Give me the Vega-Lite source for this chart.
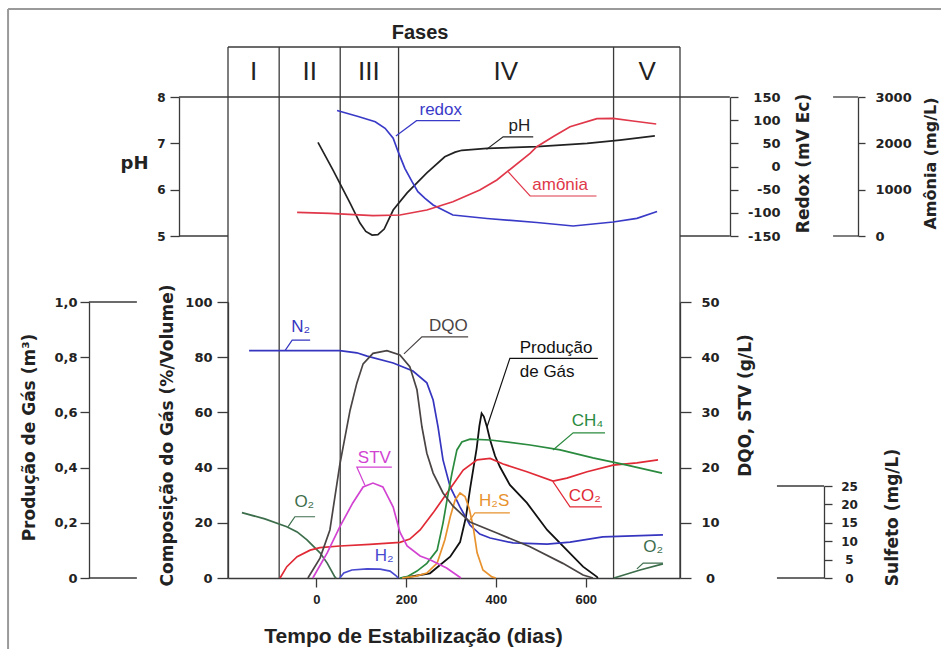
{
  "$schema": "https://vega.github.io/schema/vega-lite/v6.json",
  "width": 452,
  "height": 481,
  "autosize": {"type": "none"},
  "padding": {"left": 228, "top": 97, "right": 261, "bottom": 71},
  "background": "white",
  "config": {
    "view": {"stroke": null},
    "axis": {"grid": false, "domainColor": "#3a3a3a", "domainWidth": 1.3, "tickColor": "#3a3a3a", "tickWidth": 1.3, "labelColor": "#222222", "titleColor": "#222222", "labelFont": "DejaVu Sans", "labelFontWeight": "bold", "titleFont": "DejaVu Sans", "titleFontWeight": "bold", "labelFlush": false, "labelOverlap": false, "labelBound": false, "titleFontSize": 17, "labelFontSize": 13}
  },
  "datasets": {
    "curvas": [
      {"s":"pH","id":"pH","dia":3.5,"v":7.02},{"s":"pH","id":"pH","dia":37,"v":6.42},{"s":"pH","id":"pH","dia":75,"v":5.71},{"s":"pH","id":"pH","dia":97,"v":5.28},{"s":"pH","id":"pH","dia":110,"v":5.1},{"s":"pH","id":"pH","dia":124,"v":5.02},{"s":"pH","id":"pH","dia":137,"v":5.03},{"s":"pH","id":"pH","dia":151,"v":5.15},{"s":"pH","id":"pH","dia":171,"v":5.56},{"s":"pH","id":"pH","dia":202,"v":5.93},{"s":"pH","id":"pH","dia":246,"v":6.36},{"s":"pH","id":"pH","dia":286,"v":6.71},{"s":"pH","id":"pH","dia":309,"v":6.81},{"s":"pH","id":"pH","dia":324,"v":6.85},{"s":"pH","id":"pH","dia":380,"v":6.89},{"s":"pH","id":"pH","dia":491,"v":6.93},{"s":"pH","id":"pH","dia":603,"v":7.0},{"s":"pH","id":"pH","dia":676,"v":7.07},{"s":"pH","id":"pH","dia":754,"v":7.16},
      {"s":"redox","id":"redox","dia":46,"v":120.9},{"s":"redox","id":"redox","dia":93,"v":107.9},{"s":"redox","id":"redox","dia":131,"v":96.7},{"s":"redox","id":"redox","dia":153,"v":82.5},{"s":"redox","id":"redox","dia":171,"v":60.9},{"s":"redox","id":"redox","dia":182,"v":32},{"s":"redox","id":"redox","dia":197,"v":-3.9},{"s":"redox","id":"redox","dia":213,"v":-32.8},{"s":"redox","id":"redox","dia":226,"v":-54.4},{"s":"redox","id":"redox","dia":242,"v":-68.6},{"s":"redox","id":"redox","dia":260,"v":-83.1},{"s":"redox","id":"redox","dia":304,"v":-104.7},{"s":"redox","id":"redox","dia":380,"v":-112.2},{"s":"redox","id":"redox","dia":491,"v":-120.9},{"s":"redox","id":"redox","dia":572,"v":-128.4},{"s":"redox","id":"redox","dia":661,"v":-119.8},{"s":"redox","id":"redox","dia":714,"v":-111.8},{"s":"redox","id":"redox","dia":759,"v":-97.1},
      {"s":"amonia","id":"amonia","dia":-43,"v":512},{"s":"amonia","id":"amonia","dia":30,"v":490},{"s":"amonia","id":"amonia","dia":126,"v":438},{"s":"amonia","id":"amonia","dia":186,"v":453},{"s":"amonia","id":"amonia","dia":246,"v":561},{"s":"amonia","id":"amonia","dia":304,"v":740},{"s":"amonia","id":"amonia","dia":364,"v":993},{"s":"amonia","id":"amonia","dia":402,"v":1209},{"s":"amonia","id":"amonia","dia":425,"v":1388},{"s":"amonia","id":"amonia","dia":476,"v":1785},{"s":"amonia","id":"amonia","dia":491,"v":1927},{"s":"amonia","id":"amonia","dia":527,"v":2143},{"s":"amonia","id":"amonia","dia":565,"v":2359},{"s":"amonia","id":"amonia","dia":625,"v":2532},{"s":"amonia","id":"amonia","dia":661,"v":2540},{"s":"amonia","id":"amonia","dia":705,"v":2482},{"s":"amonia","id":"amonia","dia":757,"v":2417},
      {"s":"N2","id":"N2","dia":-150,"v":82.4},{"s":"N2","id":"N2","dia":52,"v":82.4},{"s":"N2","id":"N2","dia":90,"v":81.6},{"s":"N2","id":"N2","dia":113,"v":80.4},{"s":"N2","id":"N2","dia":171,"v":77.9},{"s":"N2","id":"N2","dia":215,"v":75},{"s":"N2","id":"N2","dia":246,"v":70.7},{"s":"N2","id":"N2","dia":260,"v":64.5},{"s":"N2","id":"N2","dia":271,"v":54.7},{"s":"N2","id":"N2","dia":282,"v":42.8},{"s":"N2","id":"N2","dia":298,"v":33},{"s":"N2","id":"N2","dia":320,"v":25.7},{"s":"N2","id":"N2","dia":342,"v":19.2},{"s":"N2","id":"N2","dia":364,"v":15.9},{"s":"N2","id":"N2","dia":387,"v":14.5},{"s":"N2","id":"N2","dia":438,"v":12.7},{"s":"N2","id":"N2","dia":514,"v":12.3},{"s":"N2","id":"N2","dia":565,"v":13},{"s":"N2","id":"N2","dia":638,"v":14.9},{"s":"N2","id":"N2","dia":772,"v":15.6},
      {"s":"O2","id":"O2a","dia":-166,"v":23.7},{"s":"O2","id":"O2a","dia":-115,"v":21.4},{"s":"O2","id":"O2a","dia":-66,"v":18.6},{"s":"O2","id":"O2a","dia":-43,"v":16.7},{"s":"O2","id":"O2a","dia":-21,"v":13.8},{"s":"O2","id":"O2a","dia":8,"v":9.1},{"s":"O2","id":"O2a","dia":24,"v":5.4},{"s":"O2","id":"O2a","dia":41,"v":0.4},{"s":"O2","id":"O2a","dia":44,"v":0},
      {"s":"O2","id":"O2b","dia":663,"v":0},{"s":"O2","id":"O2b","dia":721,"v":2.9},{"s":"O2","id":"O2b","dia":772,"v":5.1},
      {"s":"CO2","id":"CO2","dia":-81,"v":0},{"s":"CO2","id":"CO2","dia":-66,"v":4.1},{"s":"CO2","id":"CO2","dia":-43,"v":7.7},{"s":"CO2","id":"CO2","dia":-14,"v":10.1},{"s":"CO2","id":"CO2","dia":8,"v":11},{"s":"CO2","id":"CO2","dia":52,"v":11.6},{"s":"CO2","id":"CO2","dia":119,"v":12.2},{"s":"CO2","id":"CO2","dia":186,"v":12.9},{"s":"CO2","id":"CO2","dia":208,"v":14.1},{"s":"CO2","id":"CO2","dia":231,"v":17.4},{"s":"CO2","id":"CO2","dia":260,"v":23.6},{"s":"CO2","id":"CO2","dia":291,"v":30.8},{"s":"CO2","id":"CO2","dia":327,"v":39.1},{"s":"CO2","id":"CO2","dia":358,"v":42.8},{"s":"CO2","id":"CO2","dia":387,"v":43.3},{"s":"CO2","id":"CO2","dia":416,"v":41.3},{"s":"CO2","id":"CO2","dia":469,"v":38.5},{"s":"CO2","id":"CO2","dia":527,"v":35.1},{"s":"CO2","id":"CO2","dia":558,"v":36.2},{"s":"CO2","id":"CO2","dia":603,"v":38.5},{"s":"CO2","id":"CO2","dia":661,"v":40.9},{"s":"CO2","id":"CO2","dia":714,"v":41.7},{"s":"CO2","id":"CO2","dia":761,"v":42.8},
      {"s":"CH4","id":"CH4","dia":186,"v":0},{"s":"CH4","id":"CH4","dia":202,"v":0.5},{"s":"CH4","id":"CH4","dia":224,"v":2.5},{"s":"CH4","id":"CH4","dia":246,"v":5.3},{"s":"CH4","id":"CH4","dia":269,"v":10.1},{"s":"CH4","id":"CH4","dia":282,"v":19.9},{"s":"CH4","id":"CH4","dia":291,"v":28.3},{"s":"CH4","id":"CH4","dia":302,"v":38},{"s":"CH4","id":"CH4","dia":313,"v":46.4},{"s":"CH4","id":"CH4","dia":324,"v":49.3},{"s":"CH4","id":"CH4","dia":342,"v":50.3},{"s":"CH4","id":"CH4","dia":387,"v":50},{"s":"CH4","id":"CH4","dia":476,"v":48.2},{"s":"CH4","id":"CH4","dia":543,"v":46.4},{"s":"CH4","id":"CH4","dia":616,"v":43.5},{"s":"CH4","id":"CH4","dia":692,"v":40.9},{"s":"CH4","id":"CH4","dia":770,"v":38},
      {"s":"H2","id":"H2","dia":52,"v":0},{"s":"H2","id":"H2","dia":61,"v":1.8},{"s":"H2","id":"H2","dia":79,"v":2.9},{"s":"H2","id":"H2","dia":113,"v":3.3},{"s":"H2","id":"H2","dia":142,"v":3.2},{"s":"H2","id":"H2","dia":164,"v":2.5},{"s":"H2","id":"H2","dia":177,"v":0.9},{"s":"H2","id":"H2","dia":182,"v":0},
      {"s":"H2S","id":"H2S","dia":191,"v":0},{"s":"H2S","id":"H2S","dia":222,"v":0.7},{"s":"H2S","id":"H2S","dia":246,"v":1.8},{"s":"H2S","id":"H2S","dia":269,"v":5.4},{"s":"H2S","id":"H2S","dia":286,"v":13.8},{"s":"H2S","id":"H2S","dia":298,"v":22.1},{"s":"H2S","id":"H2S","dia":309,"v":28.3},{"s":"H2S","id":"H2S","dia":320,"v":30.8},{"s":"H2S","id":"H2S","dia":331,"v":29.5},{"s":"H2S","id":"H2S","dia":340,"v":25.4},{"s":"H2S","id":"H2S","dia":349,"v":18.8},{"s":"H2S","id":"H2S","dia":358,"v":9.1},{"s":"H2S","id":"H2S","dia":371,"v":2.9},{"s":"H2S","id":"H2S","dia":391,"v":0.4},{"s":"H2S","id":"H2S","dia":400,"v":0},
      {"s":"Producao","id":"Producao","dia":191,"v":0},{"s":"Producao","id":"Producao","dia":253,"v":0.017},{"s":"Producao","id":"Producao","dia":298,"v":0.077},{"s":"Producao","id":"Producao","dia":320,"v":0.13},{"s":"Producao","id":"Producao","dia":333,"v":0.22},{"s":"Producao","id":"Producao","dia":343,"v":0.33},{"s":"Producao","id":"Producao","dia":350,"v":0.4},{"s":"Producao","id":"Producao","dia":357,"v":0.47},{"s":"Producao","id":"Producao","dia":363,"v":0.55},{"s":"Producao","id":"Producao","dia":368,"v":0.597},{"s":"Producao","id":"Producao","dia":373,"v":0.585},{"s":"Producao","id":"Producao","dia":380,"v":0.547},{"s":"Producao","id":"Producao","dia":387,"v":0.5},{"s":"Producao","id":"Producao","dia":398,"v":0.442},{"s":"Producao","id":"Producao","dia":409,"v":0.402},{"s":"Producao","id":"Producao","dia":431,"v":0.337},{"s":"Producao","id":"Producao","dia":469,"v":0.272},{"s":"Producao","id":"Producao","dia":514,"v":0.174},{"s":"Producao","id":"Producao","dia":558,"v":0.101},{"s":"Producao","id":"Producao","dia":594,"v":0.041},{"s":"Producao","id":"Producao","dia":625,"v":0.004},{"s":"Producao","id":"Producao","dia":627,"v":0},
      {"s":"DQO","id":"DQO","dia":-19,"v":0},{"s":"DQO","id":"DQO","dia":8,"v":3.6},{"s":"DQO","id":"DQO","dia":30,"v":8.7},{"s":"DQO","id":"DQO","dia":52,"v":20.5},{"s":"DQO","id":"DQO","dia":75,"v":30.4},{"s":"DQO","id":"DQO","dia":90,"v":35.3},{"s":"DQO","id":"DQO","dia":104,"v":38.8},{"s":"DQO","id":"DQO","dia":126,"v":40.7},{"s":"DQO","id":"DQO","dia":157,"v":41.2},{"s":"DQO","id":"DQO","dia":186,"v":40.4},{"s":"DQO","id":"DQO","dia":208,"v":38.3},{"s":"DQO","id":"DQO","dia":224,"v":34.1},{"s":"DQO","id":"DQO","dia":235,"v":27.4},{"s":"DQO","id":"DQO","dia":246,"v":22.6},{"s":"DQO","id":"DQO","dia":260,"v":19},{"s":"DQO","id":"DQO","dia":282,"v":15.4},{"s":"DQO","id":"DQO","dia":304,"v":13.05},{"s":"DQO","id":"DQO","dia":342,"v":10.15},{"s":"DQO","id":"DQO","dia":402,"v":8.15},{"s":"DQO","id":"DQO","dia":476,"v":5.65},{"s":"DQO","id":"DQO","dia":549,"v":2.65},{"s":"DQO","id":"DQO","dia":594,"v":0.55},{"s":"DQO","id":"DQO","dia":616,"v":0},
      {"s":"STV","id":"STV","dia":-8,"v":0},{"s":"STV","id":"STV","dia":24,"v":4.55},{"s":"STV","id":"STV","dia":52,"v":9.25},{"s":"STV","id":"STV","dia":81,"v":13.6},{"s":"STV","id":"STV","dia":104,"v":16.5},{"s":"STV","id":"STV","dia":126,"v":17.2},{"s":"STV","id":"STV","dia":148,"v":16.5},{"s":"STV","id":"STV","dia":171,"v":12.85},{"s":"STV","id":"STV","dia":186,"v":8.3},{"s":"STV","id":"STV","dia":202,"v":5.8},{"s":"STV","id":"STV","dia":231,"v":4},{"s":"STV","id":"STV","dia":253,"v":3.3},{"s":"STV","id":"STV","dia":290,"v":1.8},{"s":"STV","id":"STV","dia":322,"v":0}
    ],
    "guias": [
      {"s":"pH","id":"gpH","ordem":1,"dia":379,"v":6.87},{"s":"pH","id":"gpH","ordem":2,"dia":416,"v":7.14},{"s":"pH","id":"gpH","ordem":3,"dia":483,"v":7.14},
      {"s":"redox","id":"gredox","ordem":1,"dia":177,"v":65.8},{"s":"redox","id":"gredox","ordem":2,"dia":223,"v":98.9},{"s":"redox","id":"gredox","ordem":3,"dia":320,"v":98.9},
      {"s":"amonia","id":"gam","ordem":1,"dia":427,"v":1388},{"s":"amonia","id":"gam","ordem":2,"dia":476,"v":863},{"s":"amonia","id":"gam","ordem":3,"dia":624,"v":863},
      {"s":"N2","id":"gN2","ordem":1,"dia":-70,"v":82.4},{"s":"N2","id":"gN2","ordem":2,"dia":-54,"v":86.2},{"s":"N2","id":"gN2","ordem":3,"dia":-14,"v":86.2},
      {"s":"O2","id":"gO2a","ordem":1,"dia":-63,"v":18.6},{"s":"O2","id":"gO2a","ordem":2,"dia":-48,"v":22.2},{"s":"O2","id":"gO2a","ordem":3,"dia":-3,"v":22.2},
      {"s":"CH4","id":"gCH4","ordem":1,"dia":527,"v":46.4},{"s":"CH4","id":"gCH4","ordem":2,"dia":572,"v":52.6},{"s":"CH4","id":"gCH4","ordem":3,"dia":643,"v":52.6},
      {"s":"CO2","id":"gCO2","ordem":1,"dia":527,"v":34.9},{"s":"CO2","id":"gCO2","ordem":2,"dia":565,"v":25.8},{"s":"CO2","id":"gCO2","ordem":3,"dia":636,"v":25.8},
      {"s":"H2S","id":"gH2S","ordem":1,"dia":342,"v":21},{"s":"H2S","id":"gH2S","ordem":2,"dia":353,"v":23.6},{"s":"H2S","id":"gH2S","ordem":3,"dia":431,"v":23.6},
      {"s":"O2","id":"gO2b","ordem":1,"dia":714,"v":3.3},{"s":"O2","id":"gO2b","ordem":2,"dia":728,"v":5.4},{"s":"O2","id":"gO2b","ordem":3,"dia":772,"v":5.4},
      {"s":"DQO","id":"gDQO","ordem":1,"dia":195,"v":40.6},{"s":"DQO","id":"gDQO","ordem":2,"dia":235,"v":43.7},{"s":"DQO","id":"gDQO","ordem":3,"dia":338,"v":43.7},
      {"s":"STV","id":"gSTV","ordem":1,"dia":108,"v":16.8},{"s":"STV","id":"gSTV","ordem":2,"dia":90,"v":20.1},{"s":"STV","id":"gSTV","ordem":3,"dia":168,"v":20.1},
      {"s":"Producao","id":"gProd","ordem":1,"dia":380,"v":0.547},{"s":"Producao","id":"gProd","ordem":2,"dia":431,"v":0.796},{"s":"Producao","id":"gProd","ordem":3,"dia":627,"v":0.796}
    ],
    "rotulos": [
      {"s":"pH","dia":452,"v":7.37,"texto":"pH"},
      {"s":"redox","dia":277,"v":121,"texto":"redox"},
      {"s":"amonia","dia":543,"v":1092,"texto":"amônia"},
      {"s":"N2","dia":-35,"v":90.9,"texto":"N₂"},
      {"s":"O2","dia":-27,"v":27.4,"texto":"O₂"},
      {"s":"H2","dia":151,"v":8,"texto":"H₂"},
      {"s":"CH4","dia":604,"v":56.9,"texto":"CH₄"},
      {"s":"CO2","dia":598,"v":29.7,"texto":"CO₂"},
      {"s":"H2S","dia":396,"v":27.9,"texto":"H₂S"},
      {"s":"O2","dia":750,"v":11.1,"texto":"O₂"},
      {"s":"DQO","dia":294,"v":45.6,"texto":"DQO"},
      {"s":"STV","dia":129,"v":21.8,"texto":"STV"},
      {"s":"Producao","dia":453,"v":0.835,"texto":"Produção"},
      {"s":"Producao","dia":453,"v":0.746,"texto":"de Gás"}
    ],
    "moldura": [
      {"g":"pH","dia":-306,"dia2":921,"v":8},{"g":"pH","dia":-306,"dia2":-197,"v":5},{"g":"pH","dia":810,"dia2":921,"v":5},{"g":"pH","dia":1151,"dia2":1207,"v":5},{"g":"pH","dia":1151,"dia2":1207,"v":8},
      {"g":"prod","dia":-507,"dia2":-400,"v":0},{"g":"prod","dia":-507,"dia2":-400,"v":1},
      {"g":"sulf","dia":1026,"dia2":1131,"v":0},{"g":"sulf","dia":1026,"dia2":1131,"v":25},
      {"g":"cab","dia":-197,"dia2":810,"v":1}
    ],
    "borda": [{"dia":-687,"dia2":1392,"v":1.76,"v2":-11.1}],
    "fases": [{"dia":-197,"v":0,"v2":1},{"dia":-83,"v":0,"v2":1},{"dia":53,"v":0,"v2":1},{"dia":183,"v":0,"v2":1},{"dia":662,"v":0,"v2":1},{"dia":810,"v":0,"v2":1}],
    "numerais": [{"dia":-140,"v":0.5,"texto":"I"},{"dia":-15,"v":0.5,"texto":"II"},{"dia":117,"v":0.5,"texto":"III"},{"dia":422,"v":0.5,"texto":"IV"},{"dia":737,"v":0.5,"texto":"V"}],
    "titulo": [{"dia":231,"v":1.29,"texto":"Fases"}]
  },
  "encoding": {
    "x": {"field": "dia", "type": "quantitative", "scale": {"domain": [-197, 810], "nice": false, "zero": false},
      "axis": {"values": [0, 200, 400, 600], "labelExpr": "'' + datum.value", "title": "Tempo de Estabilização (dias)", "titleFont": "Liberation Sans", "titleFontSize": 21, "titleX": 185, "titleY": 64, "titleAlign": "center", "titleBaseline": "alphabetic", "labelFont": "Liberation Sans", "labelFontSize": 13, "tickSize": 9, "labelPadding": 6, "domainWidth": 1.5}}
  },
  "layer": [
    {"data": {"name": "fases"}, "mark": {"type": "rule", "color": "#3a3a3a", "strokeWidth": 1.3}, "encoding": {}},
    {
      "encoding": {"y": {"field": "v", "type": "quantitative", "scale": {"domain": [0, 1], "range": [0, -50], "nice": false, "zero": false}, "axis": null}},
      "layer": [
        {"data": {"name": "fases"}, "mark": {"type": "rule", "color": "#3a3a3a", "strokeWidth": 1.3}, "encoding": {"y2": {"field": "v2"}}},
        {"data": {"name": "moldura"}, "transform": [{"filter": "datum.g == 'cab'"}], "mark": {"type": "rule", "color": "#3a3a3a", "strokeWidth": 1.3}, "encoding": {"x2": {"field": "dia2"}}},
        {"data": {"name": "borda"}, "mark": {"type": "rule", "color": "#9a9a9a", "strokeWidth": 2}, "encoding": {"x2": {"field": "dia2"}}},
        {"data": {"name": "borda"}, "mark": {"type": "rule", "color": "#9a9a9a", "strokeWidth": 2}, "encoding": {"y2": {"field": "v2"}}},
        {"data": {"name": "numerais"}, "mark": {"type": "text", "font": "Liberation Sans", "fontSize": 26, "color": "#222222", "baseline": "middle"}, "encoding": {"text": {"field": "texto"}}},
        {"data": {"name": "titulo"}, "mark": {"type": "text", "font": "Liberation Sans", "fontSize": 20, "fontWeight": "bold", "color": "#222222", "baseline": "middle"}, "encoding": {"text": {"field": "texto"}}}
      ]
    },
    {
      "encoding": {"y": {"field": "v", "type": "quantitative", "scale": {"domain": [5, 8], "range": [139, 0], "nice": false, "zero": false},
        "axis": {"orient": "left", "offset": 49, "values": [5, 6, 7, 8], "labelExpr": "'' + datum.value", "tickSize": 9, "labelPadding": 5, "labelFontSize": 12, "labelBaseline": "middle", "title": "pH", "titleAngle": 0, "titleX": -45, "titleY": 66, "titleAlign": "center", "titleBaseline": "middle", "titleFontSize": 18}}},
      "layer": [
        {"data": {"name": "moldura"}, "transform": [{"filter": "datum.g == 'pH'"}], "mark": {"type": "rule", "color": "#3a3a3a", "strokeWidth": 1.3}, "encoding": {"x2": {"field": "dia2"}}},
        {"data": {"name": "curvas"}, "transform": [{"filter": "datum.s == 'pH'"}], "mark": {"type": "line", "strokeWidth": 1.7}, "encoding": {"detail": {"field": "id", "type": "nominal"}, "color": {"field": "s", "type": "nominal", "scale": {"domain": ["N2","O2","CO2","CH4","H2","H2S","DQO","STV","Producao","pH","redox","amonia"], "range": ["#3535c0","#3d6e4c","#e02a36","#2a8a3e","#4a4ad0","#e8922e","#4a4444","#d243d2","#111111","#222222","#3a3ac8","#e0384a"]}, "legend": null}}},
        {"data": {"name": "guias"}, "transform": [{"filter": "datum.s == 'pH'"}], "mark": {"type": "line", "strokeWidth": 1.2}, "encoding": {"detail": {"field": "id", "type": "nominal"}, "order": {"field": "ordem"}, "color": {"field": "s", "type": "nominal", "legend": null}}},
        {"data": {"name": "rotulos"}, "transform": [{"filter": "datum.s == 'pH'"}], "mark": {"type": "text", "font": "Liberation Sans", "fontSize": 17, "baseline": "middle"}, "encoding": {"text": {"field": "texto"}, "color": {"field": "s", "type": "nominal", "legend": null}}}
      ]
    },
    {
      "encoding": {"y": {"field": "v", "type": "quantitative", "scale": {"domain": [-150, 150], "range": [139, 0], "nice": false, "zero": false},
        "axis": {"orient": "right", "offset": 50, "values": [-150, -100, -50, 0, 50, 100, 150], "labelExpr": "'' + datum.value", "tickSize": 8, "labelAlign": "right", "labelPadding": 42, "labelFontSize": 13, "labelBaseline": "middle", "title": "Redox (mV Ec)", "titleAngle": -90, "titleX": 73, "titleY": 66, "titleAlign": "center", "titleBaseline": "middle", "titleFontSize": 17}}},
      "layer": [
        {"data": {"name": "curvas"}, "transform": [{"filter": "datum.s == 'redox'"}], "mark": {"type": "line", "strokeWidth": 1.7}, "encoding": {"detail": {"field": "id", "type": "nominal"}, "color": {"field": "s", "type": "nominal", "legend": null}}},
        {"data": {"name": "guias"}, "transform": [{"filter": "datum.s == 'redox'"}], "mark": {"type": "line", "strokeWidth": 1.2}, "encoding": {"detail": {"field": "id", "type": "nominal"}, "order": {"field": "ordem"}, "color": {"field": "s", "type": "nominal", "legend": null}}},
        {"data": {"name": "rotulos"}, "transform": [{"filter": "datum.s == 'redox'"}], "mark": {"type": "text", "font": "Liberation Sans", "fontSize": 17, "baseline": "middle"}, "encoding": {"text": {"field": "texto"}, "color": {"field": "s", "type": "nominal", "legend": null}}}
      ]
    },
    {
      "encoding": {"y": {"field": "v", "type": "quantitative", "scale": {"domain": [0, 3000], "range": [139, 0], "nice": false, "zero": false},
        "axis": {"orient": "right", "offset": 178, "values": [0, 1000, 2000, 3000], "labelExpr": "'' + datum.value", "tickSize": 7, "labelAlign": "left", "labelPadding": 10, "labelFontSize": 13, "labelBaseline": "middle", "title": "Amônia (mg/L)", "titleAngle": -90, "titleX": 72, "titleY": 66, "titleAlign": "center", "titleBaseline": "middle", "titleFontSize": 16}}},
      "layer": [
        {"data": {"name": "curvas"}, "transform": [{"filter": "datum.s == 'amonia'"}], "mark": {"type": "line", "strokeWidth": 1.7}, "encoding": {"detail": {"field": "id", "type": "nominal"}, "color": {"field": "s", "type": "nominal", "legend": null}}},
        {"data": {"name": "guias"}, "transform": [{"filter": "datum.s == 'amonia'"}], "mark": {"type": "line", "strokeWidth": 1.2}, "encoding": {"detail": {"field": "id", "type": "nominal"}, "order": {"field": "ordem"}, "color": {"field": "s", "type": "nominal", "legend": null}}},
        {"data": {"name": "rotulos"}, "transform": [{"filter": "datum.s == 'amonia'"}], "mark": {"type": "text", "font": "Liberation Sans", "fontSize": 17, "baseline": "middle"}, "encoding": {"text": {"field": "texto"}, "color": {"field": "s", "type": "nominal", "legend": null}}}
      ]
    },
    {
      "encoding": {"y": {"field": "v", "type": "quantitative", "scale": {"domain": [0, 1], "range": [481, 205], "nice": false, "zero": false},
        "axis": {"orient": "left", "offset": 139, "values": [0, 0.2, 0.4, 0.6, 0.8, 1], "labelExpr": "datum.value == 0 ? '0' : replace(format(datum.value, '.1f'), '.', ',')", "tickSize": 9, "labelPadding": 3, "labelFontSize": 13, "labelBaseline": "middle", "title": "Produção de Gás (m³)", "titleAngle": -90, "titleX": -60, "titleY": 340, "titleAlign": "center", "titleBaseline": "middle", "titleFontSize": 17}}},
      "layer": [
        {"data": {"name": "moldura"}, "transform": [{"filter": "datum.g == 'prod'"}], "mark": {"type": "rule", "color": "#3a3a3a", "strokeWidth": 1.3}, "encoding": {"x2": {"field": "dia2"}}},
        {"data": {"name": "curvas"}, "transform": [{"filter": "datum.s == 'Producao'"}], "mark": {"type": "line", "strokeWidth": 1.8}, "encoding": {"detail": {"field": "id", "type": "nominal"}, "color": {"field": "s", "type": "nominal", "legend": null}}},
        {"data": {"name": "guias"}, "transform": [{"filter": "datum.s == 'Producao'"}], "mark": {"type": "line", "strokeWidth": 1.2}, "encoding": {"detail": {"field": "id", "type": "nominal"}, "order": {"field": "ordem"}, "color": {"field": "s", "type": "nominal", "legend": null}}},
        {"data": {"name": "rotulos"}, "transform": [{"filter": "datum.s == 'Producao'"}], "mark": {"type": "text", "font": "Liberation Sans", "fontSize": 17, "align": "left", "baseline": "middle"}, "encoding": {"text": {"field": "texto"}, "color": {"field": "s", "type": "nominal", "legend": null}}}
      ]
    },
    {
      "encoding": {"y": {"field": "v", "type": "quantitative", "scale": {"domain": [0, 100], "range": [481, 205], "nice": false, "zero": false},
        "axis": {"orient": "left", "offset": 0, "values": [0, 20, 40, 60, 80, 100], "labelExpr": "'' + datum.value", "tickSize": 11, "labelPadding": 5, "labelFontSize": 13, "labelBaseline": "middle", "title": "Composição do Gás (%/Volume)", "titleAngle": -90, "titleX": -61, "titleY": 338, "titleAlign": "center", "titleBaseline": "middle", "titleFontSize": 17}}},
      "layer": [
        {"data": {"name": "curvas"}, "transform": [{"filter": {"field": "s", "oneOf": ["N2", "O2", "CO2", "CH4", "H2", "H2S"]}}], "mark": {"type": "line", "strokeWidth": 1.7}, "encoding": {"detail": {"field": "id", "type": "nominal"}, "color": {"field": "s", "type": "nominal", "legend": null}}},
        {"data": {"name": "guias"}, "transform": [{"filter": {"field": "s", "oneOf": ["N2", "O2", "CO2", "CH4", "H2", "H2S"]}}], "mark": {"type": "line", "strokeWidth": 1.2}, "encoding": {"detail": {"field": "id", "type": "nominal"}, "order": {"field": "ordem"}, "color": {"field": "s", "type": "nominal", "legend": null}}},
        {"data": {"name": "rotulos"}, "transform": [{"filter": {"field": "s", "oneOf": ["N2", "O2", "CO2", "CH4", "H2", "H2S"]}}], "mark": {"type": "text", "font": "Liberation Sans", "fontSize": 17, "baseline": "middle"}, "encoding": {"text": {"field": "texto"}, "color": {"field": "s", "type": "nominal", "legend": null}}}
      ]
    },
    {
      "encoding": {"y": {"field": "v", "type": "quantitative", "scale": {"domain": [0, 50], "range": [481, 205], "nice": false, "zero": false},
        "axis": {"orient": "right", "offset": 0, "values": [0, 10, 20, 30, 40, 50], "labelExpr": "'' + datum.value", "tickSize": 11, "labelAlign": "center", "labelPadding": 19, "labelFontSize": 13, "labelBaseline": "middle", "title": "DQO, STV (g/L)", "titleAngle": -90, "titleX": 65, "titleY": 308, "titleAlign": "center", "titleBaseline": "middle", "titleFontSize": 17}}},
      "layer": [
        {"data": {"name": "curvas"}, "transform": [{"filter": {"field": "s", "oneOf": ["DQO", "STV"]}}], "mark": {"type": "line", "strokeWidth": 1.7}, "encoding": {"detail": {"field": "id", "type": "nominal"}, "color": {"field": "s", "type": "nominal", "legend": null}}},
        {"data": {"name": "guias"}, "transform": [{"filter": {"field": "s", "oneOf": ["DQO", "STV"]}}], "mark": {"type": "line", "strokeWidth": 1.2}, "encoding": {"detail": {"field": "id", "type": "nominal"}, "order": {"field": "ordem"}, "color": {"field": "s", "type": "nominal", "legend": null}}},
        {"data": {"name": "rotulos"}, "transform": [{"filter": {"field": "s", "oneOf": ["DQO", "STV"]}}], "mark": {"type": "text", "font": "Liberation Sans", "fontSize": 17, "baseline": "middle"}, "encoding": {"text": {"field": "texto"}, "color": {"field": "s", "type": "nominal", "legend": null}}}
      ]
    },
    {
      "encoding": {"y": {"field": "v", "type": "quantitative", "scale": {"domain": [0, 25], "range": [481, 389], "nice": false, "zero": false},
        "axis": {"orient": "right", "offset": 144, "values": [0, 5, 10, 15, 20, 25], "labelExpr": "'' + datum.value", "tickSize": 8, "labelAlign": "center", "labelPadding": 17, "labelFontSize": 12, "labelBaseline": "middle", "title": "Sulfeto (mg/L)", "titleAngle": -90, "titleX": 68, "titleY": 420, "titleAlign": "center", "titleBaseline": "middle", "titleFontSize": 17}}},
      "layer": [
        {"data": {"name": "moldura"}, "transform": [{"filter": "datum.g == 'sulf'"}], "mark": {"type": "rule", "color": "#3a3a3a", "strokeWidth": 1.3}, "encoding": {"x2": {"field": "dia2"}}}
      ]
    }
  ],
  "resolve": {"scale": {"y": "independent"}, "axis": {"y": "independent"}}
}
